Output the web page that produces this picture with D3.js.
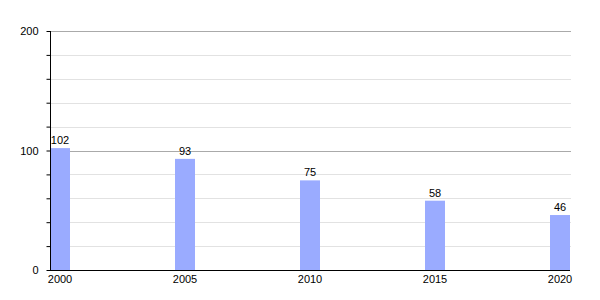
<!DOCTYPE html>
<html><head><meta charset="utf-8">
<script src="https://cdn.jsdelivr.net/npm/d3@7"></script>
<style>body{margin:0;background:#fff;}svg{display:block;font-family:"Liberation Sans",Arial,sans-serif;}</style>
</head><body>
<svg id="c" width="600" height="300"></svg>
<script>
const years = [2000, 2005, 2010, 2015, 2020];
const values = [102, 93, 75, 58, 46];
const yMajorTicks = [0, 100, 200];
const yMinorTicks = [20, 40, 60, 80, 120, 140, 160, 180];

const svg = d3.select("#c");
const x = d3.scaleLinear().domain([2000, 2020]).range([50, 550]);
const y = d3.scaleLinear().domain([0, 200]).range([270, 31]);
const barW = 20;
const right = 571;

// minor grid
svg.append("g").selectAll("line").data(yMinorTicks).join("line")
  .attr("x1", 50).attr("x2", right)
  .attr("y1", d => Math.round(y(d)) + 0.5).attr("y2", d => Math.round(y(d)) + 0.5)
  .attr("stroke", "#e2e2e2").attr("stroke-width", 1);
// major grid
svg.append("g").selectAll("line").data(yMajorTicks.filter(d => d > 0)).join("line")
  .attr("x1", 50).attr("x2", right)
  .attr("y1", d => Math.round(y(d)) + 0.5).attr("y2", d => Math.round(y(d)) + 0.5)
  .attr("stroke", "#aaaaaa").attr("stroke-width", 1);

// bars
svg.append("g").selectAll("rect").data(years).join("rect")
  .attr("x", d => x(d)).attr("width", barW)
  .attr("y", (d, i) => y(values[i])).attr("height", (d, i) => y(0) - y(values[i]))
  .attr("fill", "#9aabff");

// value labels
svg.append("g").selectAll("text").data(years).join("text")
  .attr("x", d => x(d) + barW / 2).attr("y", (d, i) => y(values[i]) - 4)
  .attr("text-anchor", "middle").attr("font-size", 11).attr("fill", "#000")
  .text((d, i) => values[i]);

// y axis
const yAxis = d3.axisLeft(y).tickValues(yMajorTicks.concat(yMinorTicks)).tickSize(4)
  .tickFormat(d => yMajorTicks.includes(d) ? d : "");
const ga = svg.append("g").attr("transform", "translate(50.5,0)").call(yAxis);
ga.select(".domain").attr("d", `M0,${y(200)}V${y(0)}`).attr("stroke", "#000");
ga.selectAll(".tick text").attr("font-size", 11).attr("font-family", "Liberation Sans, Arial, sans-serif").attr("x", -12).attr("fill", "#000");
ga.selectAll(".tick line").attr("stroke", "#000");

// x axis
const xAxis = d3.axisBottom(x).tickValues(years).tickSize(0).tickFormat(d3.format("d"));
const gx = svg.append("g").attr("transform", `translate(0,${Math.round(y(0)) + 0.5})`).call(xAxis);
gx.select(".domain").attr("d", `M50,0H570`).attr("stroke", "#000");
gx.selectAll(".tick").attr("transform", d => `translate(${x(d) + barW / 2},0)`);
gx.selectAll(".tick text").attr("font-size", 11).attr("font-family", "Liberation Sans, Arial, sans-serif").attr("y", 5).attr("fill", "#000");
</script>
</body></html>
